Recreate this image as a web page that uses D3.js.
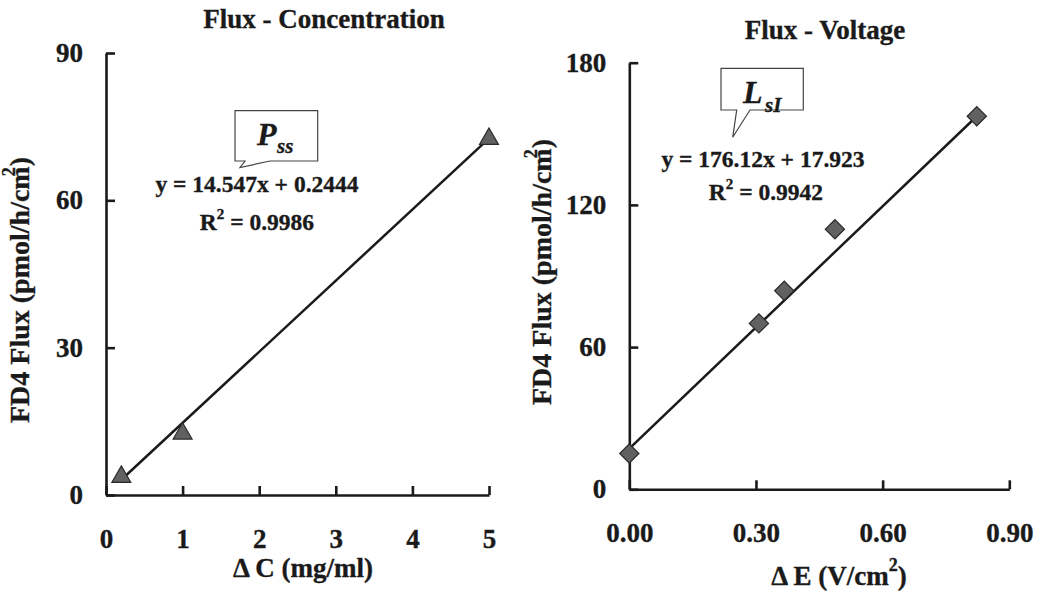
<!DOCTYPE html>
<html>
<head>
<meta charset="utf-8">
<script src="https://cdn.jsdelivr.net/npm/d3@7"></script>
<style>
  html, body { margin: 0; padding: 0; background: #fff; }
  svg { display: block; }
  text { font-family: "Liberation Serif", "Times New Roman", serif; font-weight: bold; fill: #1a1a1a; stroke: #1a1a1a; stroke-width: 0.35px; }
</style>
</head>
<body>
<svg id="chart" width="1041" height="594"></svg>
<script>
// ---------- Data ----------
// Left panel: Flux vs Concentration
const concX = [0.2, 1, 5];
const concFlux = [3.7, 12.5, 72.5];
const concFitX = [0.2, 5];
const concFitY = [3.1, 72.6];
const concXTicks = [0, 1, 2, 3, 4, 5];
const concYTicks = [0, 30, 60, 90];
const concEq = "y = 14.547x + 0.2444";
const concR2 = "0.9986";

// Right panel: Flux vs Voltage
const voltX = [0, 0.307, 0.367, 0.487, 0.823];
const voltFlux = [15.1, 70.0, 83.8, 109.7, 157.4];
const voltFitX = [0, 0.823];
const voltFitY = [17.2, 157.4];
const voltXTicks = [0, 0.3, 0.6, 0.9];
const voltYTicks = [0, 60, 120, 180];
const voltEq = "y = 176.12x + 17.923";
const voltR2 = "0.9942";

const svg = d3.select("#chart");
const INK = "#1a1a1a";

function panel(cfg) {
  const x = d3.scaleLinear().domain(cfg.xDomain).range(cfg.xRange);
  const y = d3.scaleLinear().domain(cfg.yDomain).range(cfg.yRange);
  const g = svg.append("g");

  // axes
  const xa = g.append("g")
    .attr("transform", `translate(0,${cfg.yRange[0]})`)
    .call(d3.axisBottom(x).tickValues(cfg.xTicks).tickFormat(cfg.xFmt)
      .tickSizeInner(-9).tickSizeOuter(0).tickPadding(34));
  const ya = g.append("g")
    .attr("transform", `translate(${cfg.xRange[0]},0)`)
    .call(d3.axisLeft(y).tickValues(cfg.yTicks)
      .tickSizeInner(-9).tickSizeOuter(0).tickPadding(23));
  [xa, ya].forEach(a => {
    a.select(".domain").attr("stroke", INK).attr("stroke-width", 2.6);
    a.selectAll(".tick line").attr("stroke", INK).attr("stroke-width", 2.6);
    a.selectAll(".tick text").attr("font-size", 27).attr("fill", INK)
      .style("font-family", '"Liberation Serif", "Times New Roman", serif')
      .style("font-weight", "bold");
  });

  // fit line
  const fit = cfg.fitX.map((v, i) => [v, cfg.fitY[i]]);
  g.append("path")
    .attr("d", d3.line().x(d => x(d[0])).y(d => y(d[1]))(fit))
    .attr("fill", "none").attr("stroke", INK).attr("stroke-width", 2.5);

  // markers
  const pts = cfg.px.map((v, i) => [v, cfg.py[i]]);
  g.selectAll("path.pt").data(pts).join("path")
    .attr("class", "pt")
    .attr("d", d3.symbol().type(cfg.symbol).size(cfg.symSize)())
    .attr("transform", d => `translate(${x(d[0])},${y(d[1])}) rotate(${cfg.rot})`)
    .attr("fill", "#616161").attr("stroke", "#2a2a2a").attr("stroke-width", 1.2);

  // title
  g.append("text").attr("x", cfg.title[1]).attr("y", cfg.title[2])
    .attr("text-anchor", "middle").attr("font-size", 27).text(cfg.title[0]);

  // y label
  const yl = g.append("text")
    .attr("transform", `translate(${cfg.yLab[0]},${cfg.yLab[1]}) rotate(-90)`)
    .attr("text-anchor", "middle").attr("font-size", 28);
  yl.append("tspan").text("FD4 Flux (pmol/h/cm");
  yl.append("tspan").attr("font-size", 18).attr("dy", -14).attr("dx", -10).text("2");
  yl.append("tspan").attr("dy", 14).attr("dx", 1).text(")");

  // x label
  const xl = g.append("text").attr("x", cfg.xLab[1]).attr("y", cfg.xLab[2])
    .attr("text-anchor", "middle").attr("font-size", 27);
  if (cfg.xLab[0] === "E") {
    xl.append("tspan").text("\u0394 E (V/cm");
    xl.append("tspan").attr("font-size", 18).attr("dy", -14).text("2");
    xl.append("tspan").attr("dy", 14).text(")");
  } else {
    xl.text("\u0394 C (mg/ml)");
  }

  // equation
  g.append("text").attr("x", cfg.eqPos[0]).attr("y", cfg.eqPos[1])
    .attr("text-anchor", "middle").attr("font-size", 23.5).text(cfg.eq);
  const r = g.append("text").attr("x", cfg.r2Pos[0]).attr("y", cfg.r2Pos[1])
    .attr("text-anchor", "middle").attr("font-size", 23.5);
  r.append("tspan").text("R");
  r.append("tspan").attr("font-size", 15).attr("dy", -11).text("2");
  r.append("tspan").attr("dy", 11).text(" = " + cfg.r2);

  // callout
  const b = cfg.box;
  g.append("path")
    .attr("d", `M${b.x0},${b.y0} H${b.x1} V${b.y1} H${b.t2} L${b.tx},${b.ty} L${b.t1},${b.y1} H${b.x0} Z`)
    .attr("fill", "#fff").attr("stroke", "#444").attr("stroke-width", 1.2);
  g.append("text").attr("x", cfg.sym.x).attr("y", cfg.sym.y)
    .attr("font-size", 32).attr("font-style", "italic").text(cfg.sym.main);
  g.append("text").attr("x", cfg.sym.sx).attr("y", cfg.sym.sy)
    .attr("font-size", 21).attr("font-style", "italic").text(cfg.sym.sub);
}

panel({
  xDomain: [0, 5], xRange: [106, 489],
  yDomain: [0, 90], yRange: [495, 53],
  xTicks: concXTicks, yTicks: concYTicks, xFmt: d3.format("d"),
  fitX: concFitX, fitY: concFitY, px: concX, py: concFlux,
  symbol: d3.symbolTriangle, symSize: 155, rot: 0,
  title: ["Flux - Concentration", 324, 28],
  yLab: [29, 290], xLab: ["C", 303, 577],
  eq: concEq, eqPos: [257, 192], r2: concR2, r2Pos: [257, 230],
  box: { x0: 235, y0: 110.7, x1: 317.7, y1: 161, t1: 245, t2: 270, tx: 240, ty: 167.5 },
  sym: { main: "P", x: 257, y: 145, sub: "ss", sx: 277, sy: 153 }
});

panel({
  xDomain: [0, 0.9], xRange: [629.3, 1009.3],
  yDomain: [0, 180], yRange: [489.3, 62.7],
  xTicks: voltXTicks, yTicks: voltYTicks, xFmt: d3.format(".2f"),
  fitX: voltFitX, fitY: voltFitY, px: voltX, py: voltFlux,
  symbol: d3.symbolSquare, symSize: 185, rot: 45,
  title: ["Flux - Voltage", 825, 39],
  yLab: [551, 272], xLab: ["E", 839, 585],
  eq: voltEq, eqPos: [763, 167], r2: voltR2, r2Pos: [766, 200],
  box: { x0: 721, y0: 68.3, x1: 803.3, y1: 110, t1: 736.7, t2: 750, tx: 732.7, ty: 137.3 },
  sym: { main: "L", x: 743, y: 103, sub: "sI", sx: 765, sy: 112 }
});
</script>
</body>
</html>
